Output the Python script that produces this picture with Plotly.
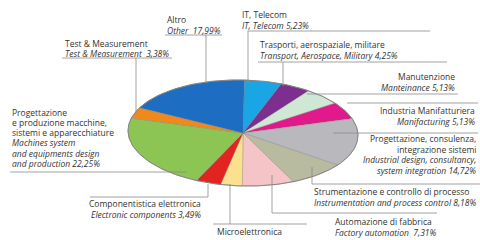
import math
import plotly.graph_objects as go

# ---------------- data ----------------
names_it = [
    ["IT, Telecom"],
    ["Trasporti, aerospaziale, militare"],
    ["Manutenzione"],
    ["Industria Manifatturiera"],
    ["Progettazione, consulenza,", "integrazione sistemi"],
    ["Strumentazione e controllo di processo"],
    ["Automazione di fabbrica"],
    ["Microelettronica"],
    ["Componentistica elettronica"],
    ["Progettazione", "e produzione macchine,", "sistemi e apparecchiature"],
    ["Test & Measurement"],
    ["Altro"],
]
names_en = [
    ["IT, Telecom"],
    ["Transport, Aerospace, Military"],
    ["Manteinance"],
    ["Manifacturing"],
    ["Industrial design, consultancy,", "system integration"],
    ["Instrumentation and process control"],
    ["Factory automation "],
    ["Microelectronics "],
    ["Electronic components"],
    ["Machines system", "and equipments design", "and production"],
    ["Test & Measurement "],
    ["Other "],
]
shares = [5.23, 4.25, 5.13, 5.13, 14.72, 8.18, 7.31, 3.04, 3.49, 22.25, 3.38, 17.99]
colors = ["#1aa6e4", "#7d2f8f", "#cfe8d6", "#e2198b", "#b9b9bd", "#b8bb9f",
          "#f5c4c6", "#fbe08e", "#e3231f", "#8cc554", "#f0891c", "#1d6ec2"]

# ---------------- layout constants (pixels) ----------------
CX, CY, RA, RB, ROT = 243, 133, 115, 53, math.radians(1.5)
label_pos = [  # x, anchor, first line y, line step
    (240, "left", 14, 11),
    (258, "left", 44.5, 11),
    (457, "right", 76.5, 11),
    (477, "right", 110, 11),
    (478, "right", 138.5, 10.6),
    (312, "left", 191, 11),
    (333, "left", 221, 11),
    (215, "left", 231, 11),
    (203, "right", 203, 11),
    (10, "left", 112, 10.3),
    (63, "left", 43, 10.5),
    (165, "left", 19.5, 11),
]
leaders = [
    [[(248, 83), (248, 31), (430, 31)]],
    [[(283, 86), (283, 62)], [(258, 62), (447, 62)]],
    [[(307, 94), (458, 94)]],
    [[(347, 103), (478, 103)]],
    [[(333, 133), (478, 133)]],
    [[(312, 167), (312, 184), (480, 184)]],
    [[(272, 175), (272, 213), (437, 213)]],
    [[(230, 184), (230, 224)], [(213, 224), (307, 224)]],
    [[(208, 184), (208, 197), (90, 197)]],
    [[(10, 172), (187, 172)]],
    [[(136, 113), (136, 58)], [(62, 58), (172, 58)]],
    [[(206, 83), (206, 35)], [(165, 35), (222, 35)]],
]


def ell(theta):
    dx = RA * math.sin(theta)
    dy = -RB * math.cos(theta)
    return (CX + dx * math.cos(ROT) - dy * math.sin(ROT),
            CY + dx * math.sin(ROT) + dy * math.cos(ROT))


fig = go.Figure()
total = sum(shares)
start = 0.0
for i, v in enumerate(shares):
    a0 = start / total * 2 * math.pi
    a1 = (start + v) / total * 2 * math.pi
    start += v
    n = max(4, int(v * 3))
    xs, ys = [CX], [CY]
    for k in range(n + 1):
        px, py = ell(a0 + (a1 - a0) * k / n)
        xs.append(px)
        ys.append(py)
    xs.append(CX)
    ys.append(CY)
    fig.add_trace(go.Scatter(x=xs, y=ys, mode="lines", fill="toself",
                             fillcolor=colors[i],
                             line=dict(color="rgba(120,120,120,0.55)", width=0.6),
                             hoverinfo="skip", showlegend=False))

# outline
ox, oy = [], []
for k in range(241):
    px, py = ell(2 * math.pi * k / 240)
    ox.append(px)
    oy.append(py)
fig.add_trace(go.Scatter(x=ox, y=oy, mode="lines",
                         line=dict(color="#858585", width=1),
                         hoverinfo="skip", showlegend=False))

# leader lines
for segs in leaders:
    for seg in segs:
        fig.add_trace(go.Scatter(x=[p[0] for p in seg], y=[p[1] for p in seg],
                                 mode="lines", line=dict(color="#8c8c8c", width=0.8),
                                 hoverinfo="skip", showlegend=False))

# labels
FONT = "Open Sans"
for i, v in enumerate(shares):
    x, anc, y0, step = label_pos[i]
    pct = f"{v:.2f}".replace(".", ",") + "%"
    lines = list(names_it[i])
    en = list(names_en[i])
    en[-1] = en[-1] + " " + pct
    lines += ["<i>" + t + "</i>" for t in en]
    for k, t in enumerate(lines):
        yy = y0 + k * step
        if yy > 236:
            # line partly below the bottom edge, as in the reference
            fig.add_annotation(x=x, y=236, text=t, xref="x", yref="y",
                               xanchor=anc, yanchor="top", showarrow=False,
                               font=dict(family=FONT, size=8.5, color="#333333"))
        else:
            fig.add_annotation(x=x, y=yy, text=t, xref="x", yref="y",
                               xanchor=anc, yanchor="middle", showarrow=False,
                               font=dict(family=FONT, size=8.5, color="#333333"))

fig.update_layout(
    width=480, height=240,
    margin=dict(l=0, r=0, t=0, b=0),
    paper_bgcolor="white", plot_bgcolor="white",
    xaxis=dict(range=[0, 480], visible=False, fixedrange=True),
    yaxis=dict(range=[240, 0], visible=False, fixedrange=True),
    showlegend=False,
)
fig.write_html("out.html", config={"displayModeBar": False},
               post_script="document.body.style.margin='0';document.body.style.overflow='hidden';")
